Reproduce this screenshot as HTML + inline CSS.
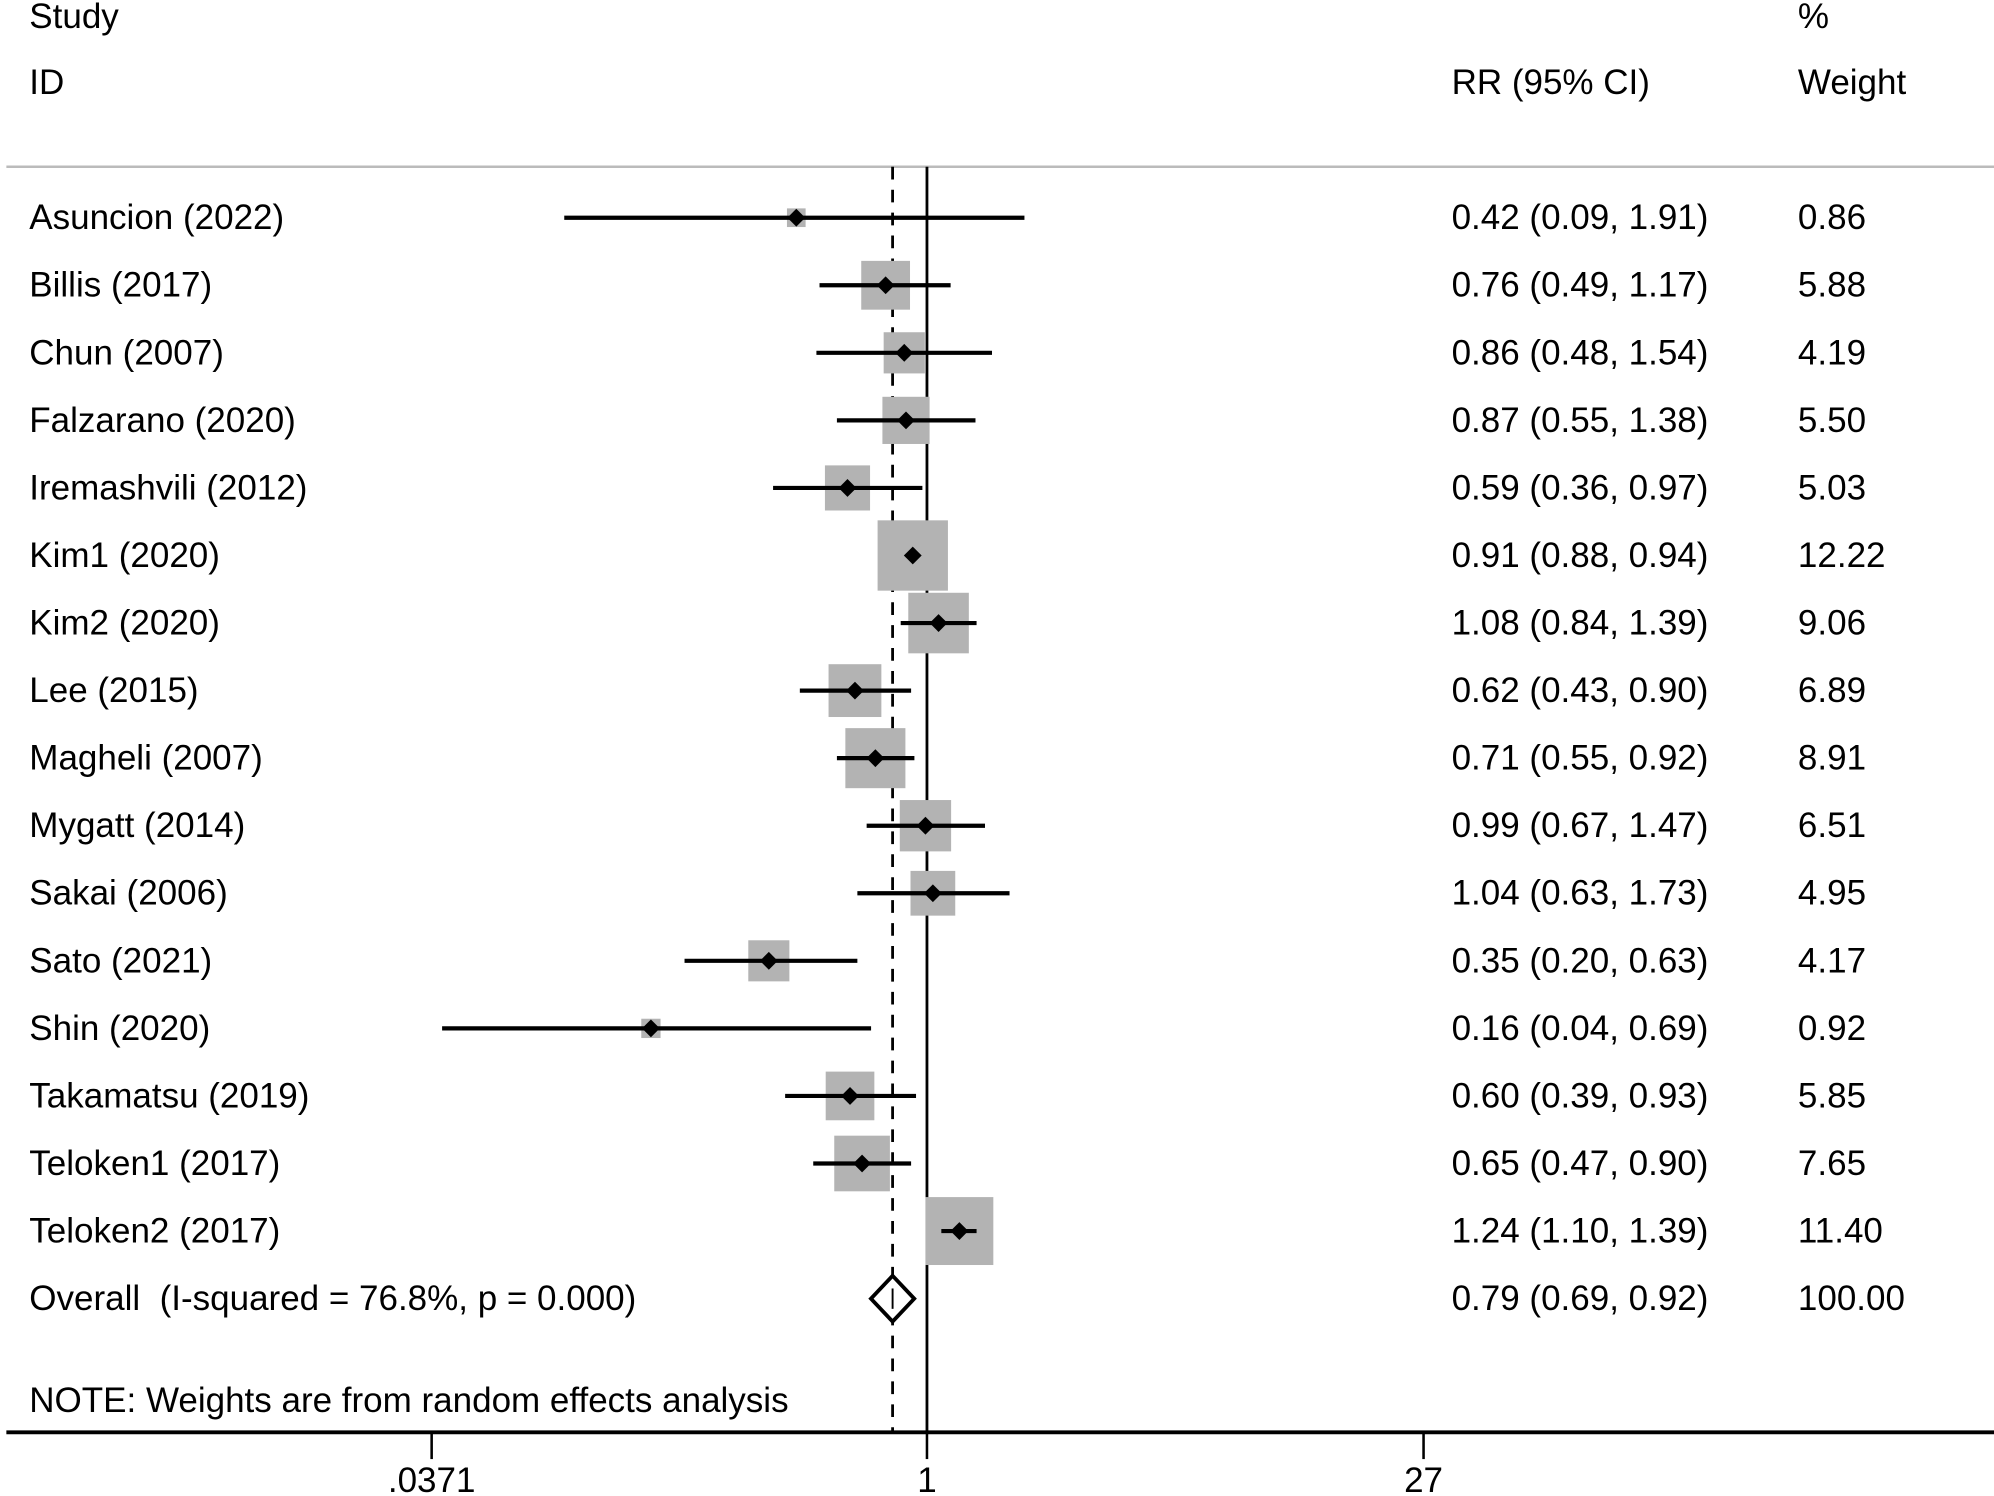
<!DOCTYPE html>
<html><head><meta charset="utf-8"><style>html,body{margin:0;padding:0;background:#fff}svg{display:block}</style></head><body>
<svg width="1994" height="1496" viewBox="0 0 1566 1175" preserveAspectRatio="none" xmlns="http://www.w3.org/2000/svg" font-family="Liberation Sans, Arial, sans-serif" font-size="27.5" fill="#000">
<rect width="1566" height="1175" fill="#fff"/>
<text x="23" y="22">Study</text><text x="1412" y="22">%</text>
<text x="23" y="74">ID</text><text x="1140" y="74">RR (95% CI)</text><text x="1412" y="74">Weight</text>
<line x1="5" y1="131" x2="1566" y2="131" stroke="#bbb" stroke-width="2"/>
<line x1="728" y1="131" x2="728" y2="1125" stroke="#000" stroke-width="2.2"/>
<line x1="701" y1="131" x2="701" y2="1125" stroke="#000" stroke-width="2.2" stroke-dasharray="10,8"/>
<line x1="5" y1="1125" x2="1566" y2="1125" stroke="#000" stroke-width="3"/>
<g stroke="#000" stroke-width="2"><line x1="339" y1="1125" x2="339" y2="1146"/><line x1="728" y1="1125" x2="728" y2="1146"/><line x1="1118" y1="1125" x2="1118" y2="1146"/></g>
<g text-anchor="middle"><text x="339" y="1172">.0371</text><text x="728" y="1172">1</text><text x="1118" y="1172">27</text></g>
<g id="rows"></g>
<polygon points="684,1020 701,1002 718,1020 701,1038" fill="#fff" stroke="#000" stroke-width="3"/>
<line x1="701" y1="1012" x2="701" y2="1028" stroke="#000" stroke-width="1.5"/>
<text x="23" y="1029">Overall&#160; (I-squared = 76.8%, p = 0.000)</text>
<text x="1140" y="1029">0.79 (0.69, 0.92)</text><text x="1412" y="1029">100.00</text>
<text x="23" y="1109">NOTE: Weights are from random effects analysis</text>
</svg>
<script>
var d=[["Asuncion (2022)",0.42,0.09,1.91,"0.86"],["Billis (2017)",0.76,0.49,1.17,"5.88"],["Chun (2007)",0.86,0.48,1.54,"4.19"],["Falzarano (2020)",0.87,0.55,1.38,"5.50"],["Iremashvili (2012)",0.59,0.36,0.97,"5.03"],["Kim1 (2020)",0.91,0.88,0.94,"12.22"],["Kim2 (2020)",1.08,0.84,1.39,"9.06"],["Lee (2015)",0.62,0.43,0.90,"6.89"],["Magheli (2007)",0.71,0.55,0.92,"8.91"],["Mygatt (2014)",0.99,0.67,1.47,"6.51"],["Sakai (2006)",1.04,0.63,1.73,"4.95"],["Sato (2021)",0.35,0.20,0.63,"4.17"],["Shin (2020)",0.16,0.04,0.69,"0.92"],["Takamatsu (2019)",0.60,0.39,0.93,"5.85"],["Teloken1 (2017)",0.65,0.47,0.90,"7.65"],["Teloken2 (2017)",1.24,1.10,1.39,"11.40"]];
function X(v){return 728+118.3*Math.log(v);}
var s="";
d.forEach(function(r,i){var y=171+53.06*i;var w=parseFloat(r[4]);var b=15.8*Math.sqrt(w);var x=X(r[1]);
s+='<rect x="'+(x-b/2)+'" y="'+(y-b/2)+'" width="'+b+'" height="'+b+'" fill="#b3b3b3"/>';
s+='<line x1="'+X(r[2])+'" y1="'+y+'" x2="'+X(r[3])+'" y2="'+y+'" stroke="#000" stroke-width="3.3"/>';
s+='<polygon points="'+(x-7)+','+y+' '+x+','+(y-7)+' '+(x+7)+','+y+' '+x+','+(y+7)+'" fill="#000"/>';
s+='<text x="23" y="'+(y+9)+'">'+r[0]+'</text>';
s+='<text x="1140" y="'+(y+9)+'">'+r[1].toFixed(2)+' ('+r[2].toFixed(2)+', '+r[3].toFixed(2)+')</text>';
s+='<text x="1412" y="'+(y+9)+'">'+r[4]+'</text>';});
document.getElementById("rows").innerHTML=s;
</script>
</body></html>
